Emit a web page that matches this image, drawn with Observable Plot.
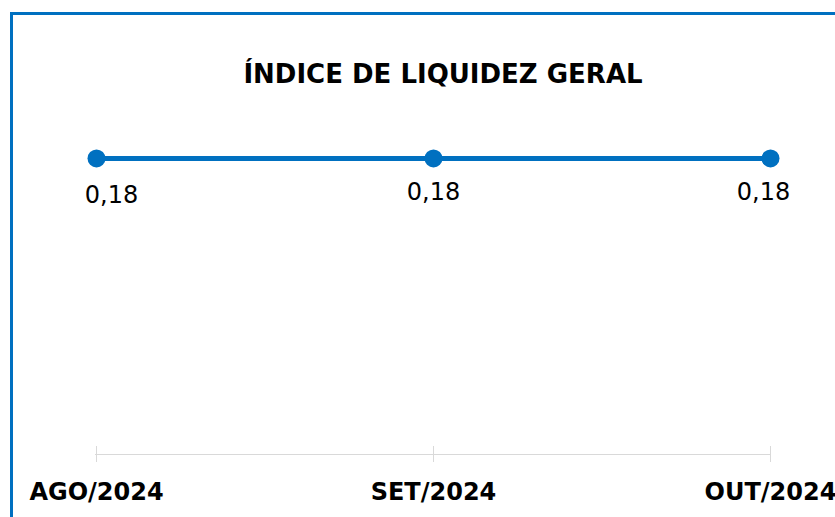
<!DOCTYPE html>
<html>
<head>
<meta charset="utf-8">
<script src="https://cdn.jsdelivr.net/npm/d3@7"></script>
<script src="https://cdn.jsdelivr.net/npm/@observablehq/plot@0.6"></script>
<style>
  html, body { margin: 0; padding: 0; background: #fff; }
  #wrap { position: relative; width: 835px; height: 517px; overflow: hidden; background: #fff; }
  #borderTop { position: absolute; left: 10px; top: 12px; width: 825px; height: 3px; background: #0070C0; }
  #borderLeft { position: absolute; left: 10px; top: 12px; width: 3px; height: 505px; background: #0070C0; }
  #title { position: absolute; left: 443px; top: 57px; transform: translateX(-50%); white-space: nowrap;
           font-family: "DejaVu Sans", sans-serif; font-weight: bold; font-size: 26px; color: #000; line-height: 34px; }
  #chart { position: absolute; left: 0; top: 100px; }
  #chart svg { overflow: visible; }
</style>
</head>
<body>
<div id="wrap">
  <div id="borderTop"></div>
  <div id="borderLeft"></div>
  <div id="title">ÍNDICE DE LIQUIDEZ GERAL</div>
  <div id="chart"></div>
</div>
<script>
const months = ["AGO/2024", "SET/2024", "OUT/2024"];
const values = [0.18, 0.18, 0.18];
const valueLabels = ["0,18", "0,18", "0,18"];

const data = months.map((m, i) => ({month: m, value: values[i], label: valueLabels[i]}));
const blue = "#0070C0";
const labelStyle = {x: "month", y: "value", text: "label",
                    fontFamily: "DejaVu Sans, sans-serif", fontSize: 24, fill: "#000"};

const chart = Plot.plot({
  width: 835,
  height: 417,
  marginLeft: 95,
  marginRight: 65,
  marginTop: 25,
  marginBottom: 63,
  style: {background: "transparent", overflow: "visible"},
  x: {type: "point", domain: months, padding: 0, label: null},
  y: {domain: [0, 0.2], axis: null},
  marks: [
    Plot.ruleY([0], {stroke: "#d9d9d9", strokeWidth: 1}),
    Plot.axisX({tickSize: 16, dy: -8, fill: "none", stroke: "#d9d9d9", label: null}),
    Plot.axisX({tickSize: 0, tickPadding: 28, label: null, fill: "#000",
                fontFamily: "DejaVu Sans, sans-serif", fontWeight: "bold", fontSize: 24}),
    Plot.line(data, {x: "month", y: "value", stroke: blue, strokeWidth: 5}),
    Plot.dot(data, {x: "month", y: "value", r: 9, fill: blue, stroke: "none"}),
    Plot.text(data.slice(0, 1), {...labelStyle, dx: 15, dy: 37}),
    Plot.text(data.slice(1, 2), {...labelStyle, dy: 34}),
    Plot.text(data.slice(2), {...labelStyle, dx: -7, dy: 34})
  ]
});
document.getElementById("chart").appendChild(chart);
</script>
</body>
</html>
